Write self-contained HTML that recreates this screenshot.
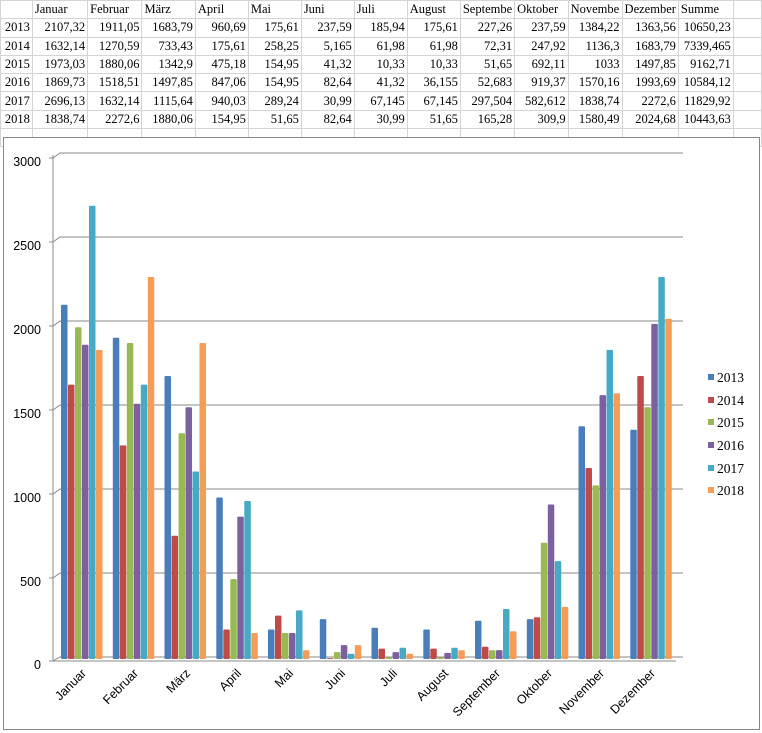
<!DOCTYPE html>
<html><head><meta charset="utf-8"><style>
body{margin:0;width:762px;height:733px;background:#fff;overflow:hidden;position:relative;font-family:"Liberation Serif",serif;}
table{position:absolute;left:0;top:0;border-collapse:collapse;font-size:12.5px;}
td{border:1px solid #d4d4d4;height:17.3px;padding:0 2px;text-align:right;white-space:nowrap;overflow:hidden;}
td.h{text-align:left}
#chart{position:absolute;left:3px;top:137px;width:755px;height:591px;border:1px solid #888;background:#fff;}
svg{position:absolute;left:0;top:0}
</style></head><body>
<table>
<colgroup><col style="width:32px"><col style="width:56px"><col style="width:55px"><col style="width:54px"><col style="width:54px"><col style="width:54px"><col style="width:54px"><col style="width:54px"><col style="width:54px"><col style="width:54px"><col style="width:54px"><col style="width:54px"><col style="width:54px"><col style="width:55px"><col style="width:30px"></colgroup>
<tr><td></td><td class="h">Januar</td><td class="h">Februar</td><td class="h">März</td><td class="h">April</td><td class="h">Mai</td><td class="h">Juni</td><td class="h">Juli</td><td class="h">August</td><td class="h">Septembe</td><td class="h">Oktober</td><td class="h">Novembe</td><td class="h">Dezember</td><td class="h">Summe</td><td></td></tr>
<tr><td>2013</td><td>2107,32</td><td>1911,05</td><td>1683,79</td><td>960,69</td><td>175,61</td><td>237,59</td><td>185,94</td><td>175,61</td><td>227,26</td><td>237,59</td><td>1384,22</td><td>1363,56</td><td>10650,23</td><td></td></tr>
<tr><td>2014</td><td>1632,14</td><td>1270,59</td><td>733,43</td><td>175,61</td><td>258,25</td><td>5,165</td><td>61,98</td><td>61,98</td><td>72,31</td><td>247,92</td><td>1136,3</td><td>1683,79</td><td>7339,465</td><td></td></tr>
<tr><td>2015</td><td>1973,03</td><td>1880,06</td><td>1342,9</td><td>475,18</td><td>154,95</td><td>41,32</td><td>10,33</td><td>10,33</td><td>51,65</td><td>692,11</td><td>1033</td><td>1497,85</td><td>9162,71</td><td></td></tr>
<tr><td>2016</td><td>1869,73</td><td>1518,51</td><td>1497,85</td><td>847,06</td><td>154,95</td><td>82,64</td><td>41,32</td><td>36,155</td><td>52,683</td><td>919,37</td><td>1570,16</td><td>1993,69</td><td>10584,12</td><td></td></tr>
<tr><td>2017</td><td>2696,13</td><td>1632,14</td><td>1115,64</td><td>940,03</td><td>289,24</td><td>30,99</td><td>67,145</td><td>67,145</td><td>297,504</td><td>582,612</td><td>1838,74</td><td>2272,6</td><td>11829,92</td><td></td></tr>
<tr><td>2018</td><td>1838,74</td><td>2272,6</td><td>1880,06</td><td>154,95</td><td>51,65</td><td>82,64</td><td>30,99</td><td>51,65</td><td>165,28</td><td>309,9</td><td>1580,49</td><td>2024,68</td><td>10443,63</td><td></td></tr>
<tr><td></td><td></td><td></td><td></td><td></td><td></td><td></td><td></td><td></td><td></td><td></td><td></td><td></td><td></td><td></td></tr>
</table>
<div id="chart"></div>
<svg width="762" height="733" id="s" font-family="Liberation Sans, sans-serif" font-size="12.5">
<g stroke="#888" fill="none" stroke-width="1">
<path d="M53,158 L60,153 H683"/><path d="M53,242 L60,237 H683"/><path d="M53,326 L60,321 H683"/><path d="M53,410 L60,405 H683"/><path d="M53,494 L60,489 H683"/><path d="M53,578 L60,573 H683"/><path d="M53,661 L60,657 H683"/>
<path d="M53,155 V661 H676"/>
<path d="M49,158 H53 M49,242 H53 M49,326 H53 M49,410 H53 M49,494 H53 M49,578 H53 M49,661 H53"/>
</g>
<g text-anchor="end" font-size="12.5">
<text x="41" y="166">3000</text><text x="41" y="250">2500</text><text x="41" y="334">2000</text><text x="41" y="418">1500</text><text x="41" y="502">1000</text><text x="41" y="586">500</text><text x="41" y="669">0</text>
</g>
<g id="bars"></g>
<g text-anchor="end">
<text transform="translate(87,674) rotate(-45)">Januar</text>
<text transform="translate(139,674) rotate(-45)">Februar</text>
<text transform="translate(191,674) rotate(-45)">März</text>
<text transform="translate(242,674) rotate(-45)">April</text>
<text transform="translate(294,674) rotate(-45)">Mai</text>
<text transform="translate(346,674) rotate(-45)">Juni</text>
<text transform="translate(398,674) rotate(-45)">Juli</text>
<text transform="translate(449,674) rotate(-45)">August</text>
<text transform="translate(501,674) rotate(-45)">September</text>
<text transform="translate(553,674) rotate(-45)">Oktober</text>
<text transform="translate(605,674) rotate(-45)">November</text>
<text transform="translate(656,674) rotate(-45)">Dezember</text>
</g>
<g font-family="Liberation Serif, serif" font-size="13.5">
<rect x="708" y="374" width="6" height="6" fill="#4a7ebb"/><text x="717" y="382">2013</text>
<rect x="708" y="397" width="6" height="6" fill="#be4b48"/><text x="717" y="405">2014</text>
<rect x="708" y="419" width="6" height="6" fill="#98b954"/><text x="717" y="427">2015</text>
<rect x="708" y="442" width="6" height="6" fill="#7d60a0"/><text x="717" y="450">2016</text>
<rect x="708" y="465" width="6" height="6" fill="#46aac5"/><text x="717" y="473">2017</text>
<rect x="708" y="487" width="6" height="6" fill="#f59d56"/><text x="717" y="495">2018</text>
</g>
</svg>
<script>
(function(){
var d=[[2107.32,1911.05,1683.79,960.69,175.61,237.59,185.94,175.61,227.26,237.59,1384.22,1363.56],
[1632.14,1270.59,733.43,175.61,258.25,5.165,61.98,61.98,72.31,247.92,1136.3,1683.79],
[1973.03,1880.06,1342.9,475.18,154.95,41.32,10.33,10.33,51.65,692.11,1033,1497.85],
[1869.73,1518.51,1497.85,847.06,154.95,82.64,41.32,36.155,52.683,919.37,1570.16,1993.69],
[2696.13,1632.14,1115.64,940.03,289.24,30.99,67.145,67.145,297.504,582.612,1838.74,2272.6],
[1838.74,2272.6,1880.06,154.95,51.65,82.64,30.99,51.65,165.28,309.9,1580.49,2024.68]];
var c=["#4a7ebb","#be4b48","#98b954","#7d60a0","#46aac5","#f59d56"];
var ns="http://www.w3.org/2000/svg";
var g=document.getElementById('bars');
for(var m=0;m<12;m++)for(var s=0;s<6;s++){var v=d[s][m],bx=55+m*51.75+6+s*7,ty=659-v*0.1681;
var r=document.createElementNS(ns,'rect');
r.setAttribute('x',bx.toFixed(1));r.setAttribute('y',ty.toFixed(1));
r.setAttribute('width','6.5');r.setAttribute('height',(659-ty).toFixed(1));
r.setAttribute('fill',c[s]);r.setAttribute('rx','1');g.appendChild(r);}
})();
</script>
</body></html>
